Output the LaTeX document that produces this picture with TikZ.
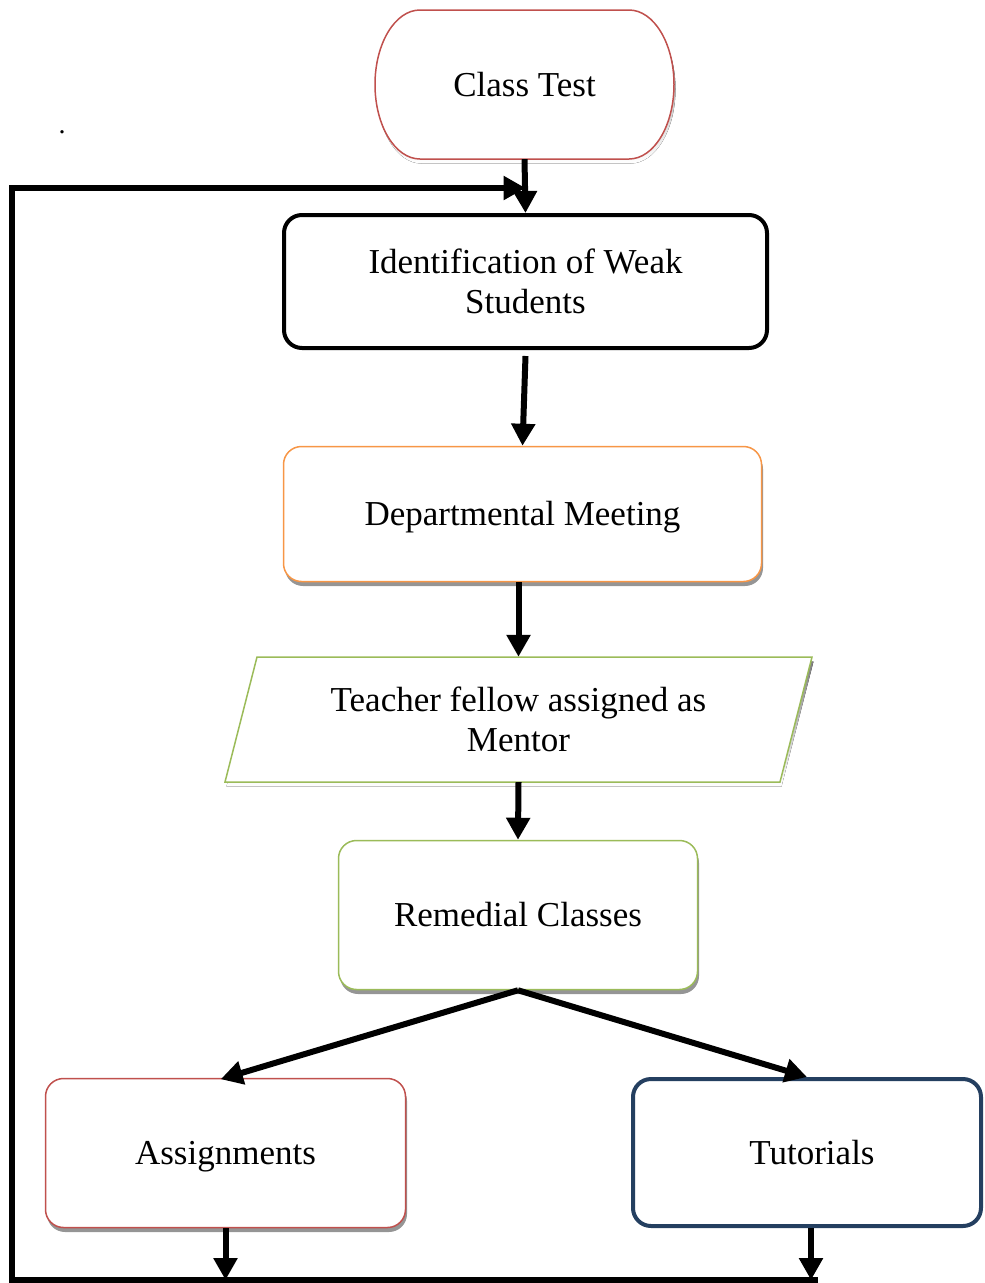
\documentclass[tikz,border=0pt]{standalone}
\usepackage{fontspec}
\setmainfont{Liberation Serif}
\usetikzlibrary{arrows.meta,shadows}
\definecolor{boxred}{HTML}{C0504D}
\definecolor{boxorange}{HTML}{F79646}
\definecolor{boxgreen}{HTML}{9BBB59}
\definecolor{boxnavy}{HTML}{243F60}
\definecolor{shade}{HTML}{959595}
\begin{document}
\begin{tikzpicture}[x=1pt,y=-1pt,
  lbl/.style={font=\fontsize{35}{40}\selectfont, align=center, inner sep=0pt},
  oneline/.style={text height=31pt, text depth=7.8pt},
  card/.style={rectangle, rounded corners=18pt, fill=white, lbl},
  soft/.style={drop shadow={shadow xshift=1.5pt, shadow yshift=-4.5pt, fill=shade, opacity=1}},
  thinline/.style={line width=1.5pt},
  flow/.style={line width=6pt, -{Triangle[width=23pt,length=22pt]}},
  rail/.style={line width=6pt}
]
\useasboundingbox (0,0) rectangle (985,1283);

% start terminal: flat top and bottom, elliptical sides
\fill[shade, shift={(1.5,4.5)}] (420,10) -- (629,10)
  .. controls (653.85,10) and (674,43.4) .. (674,84.5)
  .. controls (674,125.6) and (653.85,159) .. (629,159) -- (420,159)
  .. controls (395.15,159) and (375,125.6) .. (375,84.5)
  .. controls (375,43.4) and (395.15,10) .. (420,10) -- cycle;
\draw[boxred, thinline, fill=white] (420,10) -- (629,10)
  .. controls (653.85,10) and (674,43.4) .. (674,84.5)
  .. controls (674,125.6) and (653.85,159) .. (629,159) -- (420,159)
  .. controls (395.15,159) and (375,125.6) .. (375,84.5)
  .. controls (375,43.4) and (395.15,10) .. (420,10) -- cycle;
\node[lbl, oneline, minimum width=299pt, minimum height=149pt] (ct) at (524.5,84.5) {Class Test};

% process boxes
\node[card, draw=black, line width=4pt, minimum width=483pt, minimum height=133pt]
  (idw) at (525.5,281.5) {Identification of Weak\\Students};
\node[card, oneline, soft, draw=boxorange, thinline, minimum width=478pt, minimum height=135pt]
  (dm) at (522.5,514) {Departmental Meeting};

% input/output parallelogram
\fill[shade, shift={(1.5,4.5)}] (257,657) -- (812,657) -- (780,782) -- (225,782) -- cycle;
\draw[boxgreen, thinline, fill=white] (257,657) -- (812,657) -- (780,782) -- (225,782) -- cycle;
\node[lbl, minimum width=520pt, minimum height=125pt] (tf) at (518.5,719.5) {Teacher fellow assigned as\\Mentor};

\node[card, oneline, soft, draw=boxgreen, thinline, minimum width=359pt, minimum height=149pt]
  (rc) at (518,915) {Remedial Classes};
\node[card, oneline, soft, draw=boxred, thinline, minimum width=360pt, minimum height=149pt]
  (asg) at (225.5,1153) {Assignments};
\node[card, oneline, draw=boxnavy, line width=4pt, minimum width=348pt, minimum height=147pt]
  (tut) at (807,1152.5) {\hspace*{10pt}Tutorials};

\node[font=\fontsize{28}{30}\selectfont, inner sep=0pt] (dot) at (62,132) {.};

% feedback loop corners
\coordinate (tl) at (12,188);
\coordinate (bl) at (12,1280);
\coordinate (br) at (818,1280);

% connectors
\draw[flow] (ct.south) -- (idw.north);
\draw[flow] (br) -- (bl) -- (tl) -- (idw.north |- tl);
\draw[flow] (idw.south) ++(0,6) -- (dm.north);
\draw[flow] (tf.north |- dm.south) -- (tf.north);
\draw[flow] (tf.south) -- (rc.north);
\draw[flow, shorten >=-5pt] (rc.south) -- (asg.north);
\draw[flow] (rc.south) -- (tut.north);
\draw[flow] (asg.south) -- (asg.south |- bl);
\draw[flow] ([xshift=4pt]tut.south) -- ([xshift=4pt]tut.south |- bl);
\end{tikzpicture}
\end{document}
